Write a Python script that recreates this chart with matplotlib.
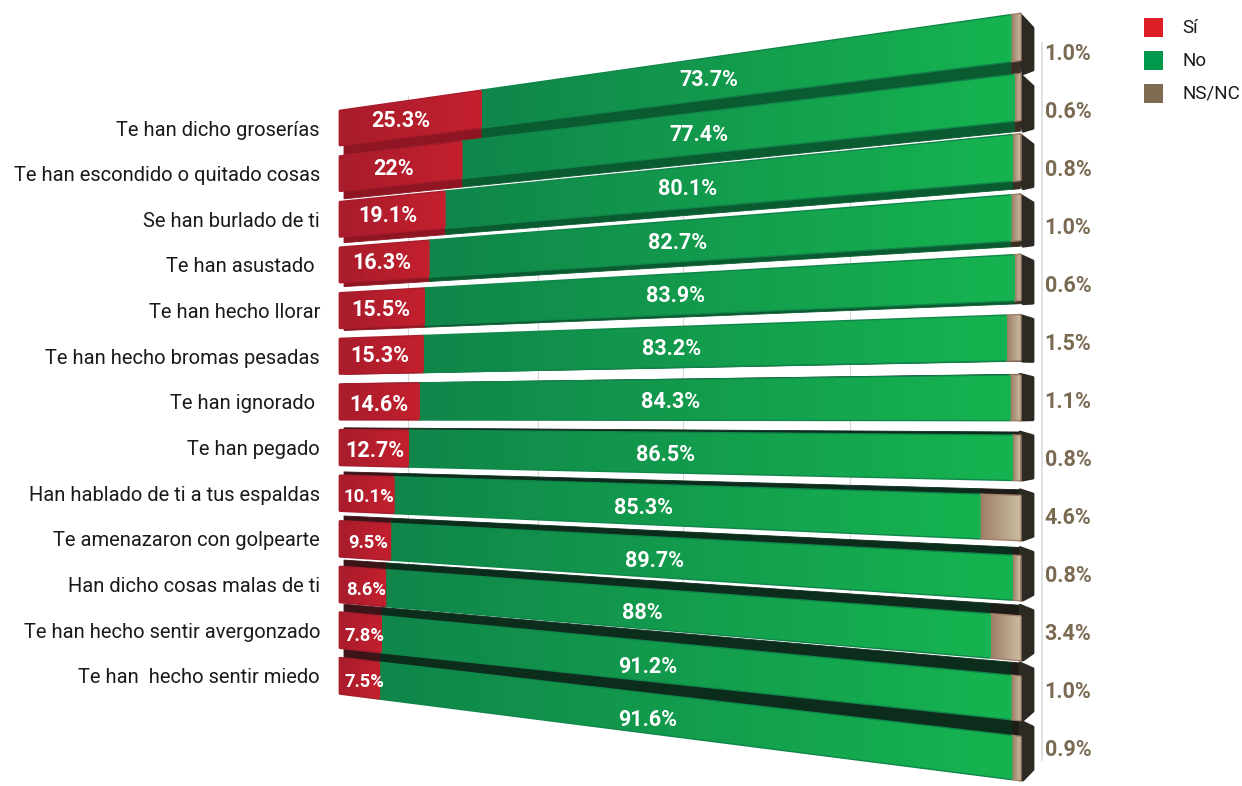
import numpy as np
import matplotlib
matplotlib.use('Agg')
import matplotlib.pyplot as plt
from matplotlib.colors import LinearSegmentedColormap
from matplotlib.patches import Polygon, Rectangle

labels = ['Te han dicho groserías', 'Te han escondido o quitado cosas', 'Se han burlado de ti',
          'Te han asustado ', 'Te han hecho llorar', 'Te han hecho bromas pesadas', 'Te han ignorado ',
          'Te han pegado', 'Han hablado de ti a tus espaldas', 'Te amenazaron con golpearte',
          'Han dicho cosas malas de ti', 'Te han hecho sentir avergonzado', 'Te han  hecho sentir miedo']
si = [25.3, 22, 19.1, 16.3, 15.5, 15.3, 14.6, 12.7, 10.1, 9.5, 8.6, 7.8, 7.5]
no = [73.7, 77.4, 80.1, 82.7, 83.9, 83.2, 84.3, 86.5, 85.3, 89.7, 88, 91.2, 91.6]
nsnc = [1.0, 0.6, 0.8, 1.0, 0.6, 1.5, 1.1, 0.8, 4.6, 0.8, 3.4, 1.0, 0.9]
legend_names = ['Sí', 'No', 'NS/NC']
legend_colors = ['#dc1f26', '#00984a', '#7d6b52']

plt.rcParams['font.family'] = ['Roboto', 'DejaVu Sans']

X0, X1 = 340, 1020
A, B = 5.3, 0.00221
EYE = 5.5


def px(v):
    # perspective: values are squeezed on the left, wide on the right
    return X0 + A * v / (1 - B * v)


def edge_y(left, right, x):
    return left + (right - left) * (x - X0) / (X1 - X0)


def top_y(i, x):
    return edge_y(111 + 45.6 * i, 14 + 60.25 * i, x)


def bot_y(i, x):
    return edge_y(145 + 45.7 * i, 60 + 60 * i, x)


def depth(i, x):
    start = 1.9 if i <= 5 else 1.6
    return edge_y(start, 2.5, x) * abs(i - EYE)


def fill_gradient(ax, pts, c0, c1, z):
    pts = np.array(pts)
    patch = Polygon(pts, closed=True, facecolor=c0, edgecolor=c0, lw=2, joinstyle='round', zorder=z)
    ax.add_patch(patch)
    cmap = LinearSegmentedColormap.from_list('g', [c0, c1])
    grad = np.linspace(0, 1, 128).reshape(1, -1)
    im = ax.imshow(grad, cmap=cmap, vmin=0, vmax=1, aspect='auto', zorder=z + 0.1, interpolation='bilinear',
                   extent=[pts[:, 0].min(), pts[:, 0].max(), pts[:, 1].max(), pts[:, 1].min()])
    im.set_clip_path(patch)


fig = plt.figure(figsize=(12.42, 7.86), dpi=100)
ax = fig.add_axes([0, 0, 1, 1])

# faint background grid
for gx in [408, 538, 683, 850]:
    ax.plot([gx, gx], [96, 690], color='#d8d8d8', lw=0.8, zorder=1)
ax.plot([1042, 1042], [43, 760], color='#dcdcdc', lw=1.2, zorder=1)

order = [0, 1, 2, 3, 4, 5, 12, 11, 10, 9, 8, 7, 6]
for n, i in enumerate(order):
    z = 2 + n
    c1 = px(si[i])
    c2 = px(si[i] + no[i])
    c3 = px(si[i] + no[i] + nsnc[i])

    # underside for rows above the eye line, top side for the rows below
    for a, b, col in [(X0 + 4, c1, '#8f1522' if i <= 5 else '#3d1418'),
                      (c1, c2, '#0a5c30' if i <= 5 else '#0c2c1c'),
                      (c2, c3, '#3b2f25' if i <= 5 else '#1d1c16')]:
        if i <= 5:
            pts = [(a, bot_y(i, a)), (b, bot_y(i, b)), (b, bot_y(i, b) + depth(i, b)), (a, bot_y(i, a) + depth(i, a))]
        else:
            pts = [(a, top_y(i, a)), (b, top_y(i, b)), (b, top_y(i, b) - depth(i, b)), (a, top_y(i, a) - depth(i, a))]
        ax.add_patch(Polygon(pts, closed=True, facecolor=col, edgecolor=col, lw=0.6, zorder=z))

    # end cap
    cap = [(X1, top_y(i, X1) - (depth(i, X1) if i > 5 else 0)), (X1 + 13, 28 + 58.25 * i), (X1 + 13, 70 + 58.3 * i),
           (X1 + 3, bot_y(i, X1) + (depth(i, X1) if i <= 5 else 0)), (X1, bot_y(i, X1))]
    ax.add_patch(Polygon(cap, closed=True, facecolor='#2c2a22', edgecolor='#2c2a22', lw=2, joinstyle='round', zorder=z))

    # front faces
    for a, b, col0, col1 in [(X0, c1, '#a81c2c', '#c4202e'),
                             (c1, c2, '#10864a', '#16b450'),
                             (c2, c3, '#a07e68', '#c9bea2')]:
        pts = [(a, top_y(i, a)), (b, top_y(i, b)), (b, bot_y(i, b)), (a, bot_y(i, a))]
        fill_gradient(ax, pts, col0, col1, z + 0.2)

    # text
    left_mid = (top_y(i, X0) + bot_y(i, X0)) / 2
    ax.text(320, left_mid + 2, labels[i], ha='right', va='center', fontsize=14.5, color='#1a1a1a', zorder=30)

    sx = X0 + 9 + 0.75 * (px(si[i] / 2) - X0)
    ax.text(sx, (top_y(i, sx) + bot_y(i, sx)) / 2 + (3 if i > 5 else 1), f'{si[i]:g}%', ha='center', va='center',
            fontsize=15.5 if si[i] > 11 else 13.2, fontweight='bold', color='white', zorder=30)

    nx = px(si[i] + no[i] / 2) - 13
    ax.text(nx, (top_y(i, nx) + bot_y(i, nx)) / 2 + 1.5 + max(0, i - 5) * 0.7, f'{no[i]:g}%', ha='center', va='center',
            fontsize=15.5, fontweight='bold', color='white', zorder=30)

    ax.text(1068, 54.5 + 58 * i, f'{nsnc[i]:.1f}%', ha='center', va='center', fontsize=15.5, fontweight='bold',
            color='#7a6a52', zorder=30)

# legend
for k, name in enumerate(legend_names):
    ax.add_patch(Rectangle((1144, 18 + 33 * k), 19, 19, facecolor=legend_colors[k], edgecolor='none', zorder=30))
    ax.text(1182, 28 + 33 * k, name, ha='left', va='center', fontsize=13.5, color='#1a1a1a', zorder=30)

ax.set_xlim(0, 1242)
ax.set_ylim(786, 0)
ax.axis('off')

fig.savefig('out.png', dpi=100)
